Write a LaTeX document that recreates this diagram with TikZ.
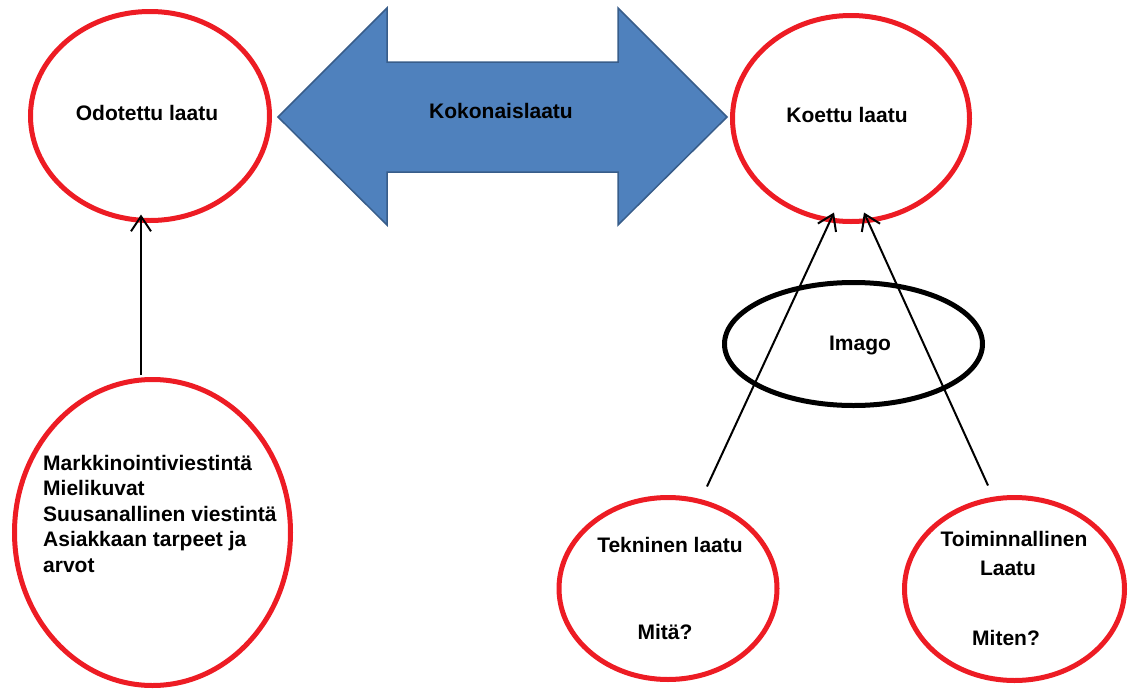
\documentclass[tikz,border=0pt]{standalone}
\usepackage{fontspec}
\setmainfont{Liberation Sans}
\usetikzlibrary{shapes.geometric,arrows.meta}
\definecolor{ered}{HTML}{ED1C24}
\definecolor{ablue}{HTML}{4F81BD}
\definecolor{ablueb}{HTML}{385D8A}
\begin{document}
\begin{tikzpicture}[x=1pt,y=-1pt,
  redell/.style={ellipse, draw=ered, line width=5pt, inner sep=0pt},
  blackell/.style={ellipse, draw=black, line width=5pt, inner sep=0pt},
  lbl/.style={font=\fontsize{21}{25.5}\selectfont\bfseries, inner sep=0pt, anchor=base},
  bigarrow/.style={fill=ablue, draw=ablueb, line width=1.5pt, line join=miter},
  conn/.style={draw=black, line width=2pt, -{Straight Barb[length=15pt,width=20pt]}}]
\useasboundingbox (0,0) rectangle (1136,691);

% big double arrow
\draw[bigarrow] (278,117) -- (387,8) -- (387,62) -- (618,62) -- (618,8) -- (727,117)
  -- (618,225) -- (618,172) -- (387,172) -- (387,225) -- cycle;
\node[lbl] (kok) at (501,118) {Kokonaislaatu};

% ellipses
\node[redell, minimum width=239pt, minimum height=209pt] (od) at (150,116) {};
\node[redell, minimum width=237pt, minimum height=206pt] (ko) at (851,118.5) {};
\node[redell, minimum width=276pt, minimum height=306pt] (mk) at (152.5,532.5) {};
\node[redell, minimum width=218pt, minimum height=182pt] (tek) at (668,588.5) {};
\node[redell, minimum width=220pt, minimum height=183pt] (toim) at (1014.5,589) {};
\node[blackell, minimum width=258pt, minimum height=123pt] (im) at (853.5,344) {};

% texts
\node[lbl] (odt) at (147,120.7) {Odotettu laatu};
\node[lbl] (kot) at (847,122.7) {Koettu laatu};
\node[lbl] (imt) at (860,350) {Imago};
\node[lbl, anchor=north west, align=left] (mkt) at (43,455)
  {Markkinointiviestintä\\Mielikuvat\\Suusanallinen viestintä\\Asiakkaan tarpeet ja\\arvot};
\node[lbl] (tekt) at (670,552.7) {Tekninen laatu};
\node[lbl] (tekq) at (665,639) {Mitä?};
\node[lbl] (toimt) at (1014,546.7) {Toiminnallinen};
\node[lbl] (toimt2) at (1008,575) {Laatu};
\node[lbl] (toimq) at (1006,645) {Miten?};

% connectors
\draw[conn] ([xshift=-11.5pt,yshift=2.5pt]mk.north) -- ([xshift=-9pt,yshift=8.5pt]od.south);
\draw[conn] ([xshift=39pt,yshift=8.5pt]tek.north) -- ([xshift=-17pt,yshift=11.5pt]ko.south);
\draw[conn] ([xshift=-26.5pt,yshift=9.5pt]toim.north) -- ([xshift=13pt,yshift=11.5pt]ko.south);
\end{tikzpicture}
\end{document}
